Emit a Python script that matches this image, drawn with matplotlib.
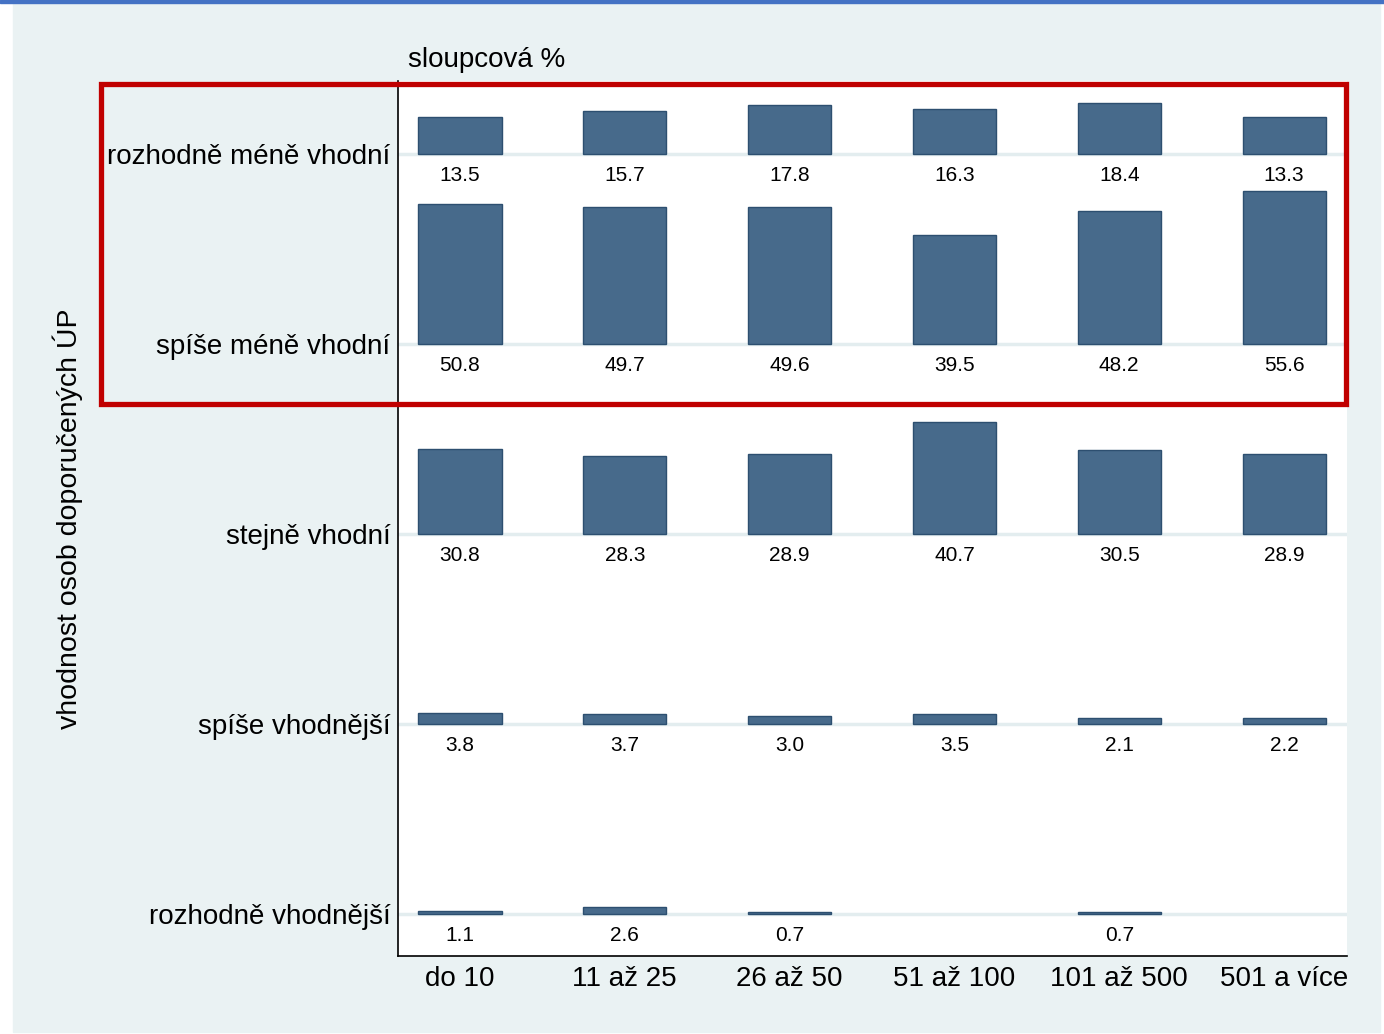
import matplotlib.pyplot as plt
import matplotlib.patches as mpatches
import numpy as np

plt.rcParams['font.family'] = ['Liberation Sans', 'DejaVu Sans']

rows = ['rozhodně méně vhodní', 'spíše méně vhodní', 'stejně vhodní',
        'spíše vhodnější', 'rozhodně vhodnější']
cols = ['do 10', '11 až 25', '26 až 50', '51 až 100', '101 až 500', '501 a více']

r_mene = [13.5, 15.7, 17.8, 16.3, 18.4, 13.3]
s_mene = [50.8, 49.7, 49.6, 39.5, 48.2, 55.6]
stejne = [30.8, 28.3, 28.9, 40.7, 30.5, 28.9]
s_vhod = [3.8, 3.7, 3.0, 3.5, 2.1, 2.2]
r_vhod = [1.1, 2.6, 0.7, None, 0.7, None]
values = [r_mene, s_mene, stejne, s_vhod, r_vhod]

W, H = 1384, 1034
fig = plt.figure(figsize=(W / 100, H / 100), dpi=100, facecolor='white')

# graph region background + top blue rule
fig.patches.append(mpatches.Rectangle((13 / W, 2 / H), (1380 - 13) / W, (1031 - 2) / H,
                                      transform=fig.transFigure, color='#EAF2F3', zorder=-2))
fig.patches.append(mpatches.Rectangle((0, 1 - 3 / H), 1, 3 / H,
                                      transform=fig.transFigure, color='#4472C4', zorder=-1))

ax = fig.add_axes([398 / W, 1 - 956 / H, (1347 - 398) / W, (956 - 81) / H])
ax.set_facecolor('white')

row_h = 69.0
x = np.arange(len(cols))
for i, vals in enumerate(values):
    base = -i * row_h
    ax.axhline(base, color='#E3EDEF', lw=2.5, zorder=1)
    for j, v in enumerate(vals):
        if v is None:
            continue
        ax.bar(x[j], v, bottom=base, width=0.504, color='#476A8B',
               edgecolor='#2D4F70', linewidth=1.0, zorder=2)
        ax.annotate(f'{v:.1f}', (x[j], base), xytext=(0, -15.6),
                    textcoords='offset points', ha='center', va='center',
                    fontsize=15, color='black')

ax.set_xlim(-0.376, len(cols) - 1 + 0.382)
ax.set_ylim(-4 * row_h - 15.3, 26.5)
ax.set_xticks(x)
ax.set_xticklabels(cols, fontsize=20)
ax.set_yticks([-i * row_h for i in range(len(rows))])
ax.set_yticklabels(rows, fontsize=20)
ax.tick_params(axis='both', length=0)
ax.tick_params(axis='y', pad=5.5)
ax.tick_params(axis='x', pad=7)
for s in ['top', 'right']:
    ax.spines[s].set_visible(False)
for s in ['left', 'bottom']:
    ax.spines[s].set_color('black')
    ax.spines[s].set_linewidth(1.2)

fig.text(408 / W, 1 - 60 / H, 'sloupcová %', fontsize=20, ha='left', va='center')
fig.text(68 / W, 1 - 519 / H, 'vhodnost osob doporučených ÚP', fontsize=20.5,
         rotation=90, ha='center', va='center')

# red highlight box
fig.patches.append(mpatches.Rectangle((100.8 / W, 1 - 404 / H), (1345.5 - 100.8) / W,
                                      (404 - 84.2) / H, transform=fig.transFigure,
                                      fill=False, edgecolor='#C00000', linewidth=3.8,
                                      zorder=10))

fig.savefig('out.png', dpi=100)
